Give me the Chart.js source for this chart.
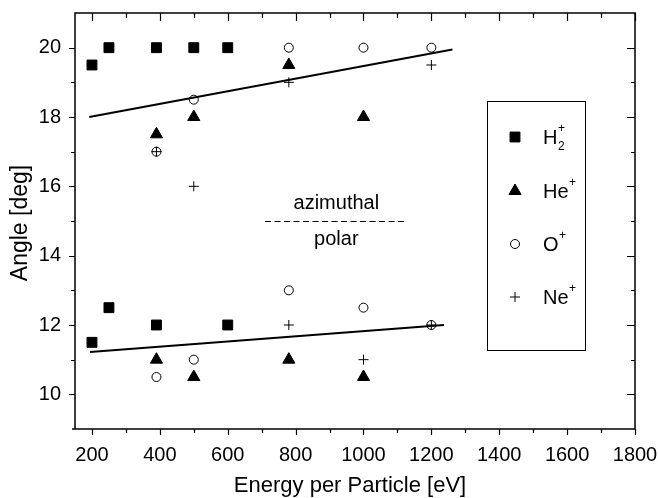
<!DOCTYPE html>
<html><head><meta charset="utf-8">
<script src="https://cdn.jsdelivr.net/npm/chart.js@4.4.0/dist/chart.umd.min.js"></script>
<style>html,body{margin:0;padding:0;background:#fff}#wrap{width:658px;height:498px}</style>
</head><body><div id="wrap"><canvas id="c" width="658" height="498"></canvas></div>
<script>
// ---- tick labels ----
const xMajorTicks = [200, 400, 600, 800, 1000, 1200, 1400, 1600, 1800];
const xMinorTicks = [300, 500, 700, 900, 1100, 1300, 1500, 1700];
const yMajorTicks = [10, 12, 14, 16, 18, 20];
const yMinorTicks = [11, 13, 15, 17, 19];

// ---- series (energy [eV], angle [deg]) ----
const h2AzimuthalE = [200, 250, 390, 500, 600];
const h2AzimuthalA = [19.5, 20, 20, 20, 20];
const h2PolarE = [200, 250, 390, 600];
const h2PolarA = [11.5, 12.5, 12, 12];

const heAzimuthalE = [390, 500, 780, 1000];
const heAzimuthalA = [17.5, 18, 19.5, 18];
const hePolarE = [390, 500, 780, 1000];
const hePolarA = [11, 10.5, 11, 10.5];

const oAzimuthalE = [390, 500, 780, 1000, 1200];
const oAzimuthalA = [17, 18.5, 20, 20, 20];
const oPolarE = [390, 500, 780, 1000, 1200];
const oPolarA = [10.5, 11, 13, 12.5, 12];

const neAzimuthalE = [390, 500, 780, 1200];
const neAzimuthalA = [17, 16, 19, 19.5];
const nePolarE = [780, 1000, 1200];
const nePolarA = [12, 11, 12];

// ---- linear fits ----
const fitAzimuthalE = [192, 1262];
const fitAzimuthalA = [18.0, 19.95];
const fitPolarE = [194, 1237];
const fitPolarA = [11.22, 12.0];

// ---- labels ----
const xTitle = 'Energy per Particle [eV]';
const yTitle = 'Angle [deg]';
const legendNames = [['H', '2', '+'], ['He', '', '+'], ['O', '', '+'], ['Ne', '', '+']];
const dividerE = [710, 1130];
const dividerA = 15;
const upperLabel = 'azimuthal';
const lowerLabel = 'polar';

const FONT = '"Liberation Sans", Arial, Helvetica, sans-serif';
const pts = (xs, ys) => xs.map((x, i) => ({x: x, y: ys[i]}));

const styles = [
  {pointStyle: 'rect', radius: 7, bg: '#000', border: '#000', bw: 1},
  {pointStyle: 'triangle', radius: 7, bg: '#000', border: '#000', bw: 1},
  {pointStyle: 'circle', radius: 4.5, bg: 'rgba(0,0,0,0)', border: '#000', bw: 1},
  {pointStyle: 'cross', radius: 5, bg: 'rgba(0,0,0,0)', border: '#000', bw: 1}
];
function markerDS(label, data, s) {
  return {label: label, data: data, showLine: false, pointStyle: s.pointStyle, pointRadius: s.radius,
    pointHoverRadius: s.radius, pointBackgroundColor: s.bg, pointBorderColor: s.border, pointBorderWidth: s.bw};
}
function lineDS(label, data) {
  return {label: label, data: data, showLine: true, pointRadius: 0, borderColor: '#000', borderWidth: 2, fill: false};
}

const datasets = [
  lineDS('fit azimuthal', pts(fitAzimuthalE, fitAzimuthalA)),
  lineDS('fit polar', pts(fitPolarE, fitPolarA)),
  markerDS('H2+ azimuthal', pts(h2AzimuthalE, h2AzimuthalA), styles[0]),
  markerDS('H2+ polar', pts(h2PolarE, h2PolarA), styles[0]),
  markerDS('He+ azimuthal', pts(heAzimuthalE, heAzimuthalA), styles[1]),
  markerDS('He+ polar', pts(hePolarE, hePolarA), styles[1]),
  markerDS('O+ azimuthal', pts(oAzimuthalE, oAzimuthalA), styles[2]),
  markerDS('O+ polar', pts(oPolarE, oPolarA), styles[2]),
  markerDS('Ne+ azimuthal', pts(neAzimuthalE, neAzimuthalA), styles[3]),
  markerDS('Ne+ polar', pts(nePolarE, nePolarA), styles[3])
];

const decor = {
  id: 'decor',
  afterDraw(chart) {
    const ctx = chart.ctx, a = chart.chartArea, xs = chart.scales.x, ys = chart.scales.y;
    ctx.save();
    ctx.strokeStyle = '#000';
    ctx.fillStyle = '#000';
    // frame
    ctx.lineWidth = 1.5;
    ctx.beginPath();
    ctx.moveTo(a.left - 3, a.bottom); ctx.lineTo(a.right, a.bottom);
    ctx.moveTo(a.left, a.bottom); ctx.lineTo(a.left, a.top);
    ctx.lineTo(a.right, a.top); ctx.lineTo(a.right, a.bottom);
    ctx.stroke();
    // ticks
    ctx.lineWidth = 1.2;
    ctx.beginPath();
    const xt = (v, outLen, inLen) => { const p = Math.round(xs.getPixelForValue(v)) + 0.5;
      ctx.moveTo(p, a.bottom); ctx.lineTo(p, a.bottom + outLen);
      ctx.moveTo(p, a.top); ctx.lineTo(p, a.top + inLen); };
    const yt = (v, outLen, inLen) => { const p = Math.round(ys.getPixelForValue(v)) + 0.5;
      ctx.moveTo(a.left, p); ctx.lineTo(a.left - outLen, p);
      ctx.moveTo(a.right, p); ctx.lineTo(a.right - inLen, p); };
    xMajorTicks.forEach(v => xt(v, 6, 8));
    xMinorTicks.forEach(v => xt(v, 4, 5));
    yMajorTicks.forEach(v => yt(v, 6, 8));
    yMinorTicks.forEach(v => yt(v, 4, 4));
    ctx.stroke();
    // axis titles
    ctx.font = '22px ' + FONT;
    ctx.textAlign = 'center';
    ctx.textBaseline = 'middle';
    ctx.fillText(xTitle, 350, 486);
    ctx.save();
    ctx.translate(21, 223);
    ctx.rotate(-Math.PI / 2);
    ctx.font = '23px ' + FONT;
    ctx.fillText(yTitle, 0, 0);
    ctx.restore();
    // divider annotation
    const dx0 = xs.getPixelForValue(dividerE[0]), dx1 = xs.getPixelForValue(dividerE[1]);
    const dy = Math.round(ys.getPixelForValue(dividerA)) + 0.5;
    ctx.lineWidth = 1;
    ctx.setLineDash([6, 3.5]);
    ctx.beginPath(); ctx.moveTo(dx0, dy); ctx.lineTo(dx1, dy); ctx.stroke();
    ctx.setLineDash([]);
    ctx.font = '20px ' + FONT;
    const cx = (dx0 + dx1) / 2;
    ctx.fillText(upperLabel, cx, dy - 18);
    ctx.fillText(lowerLabel, cx, dy + 18);
    // legend box
    ctx.lineWidth = 1;
    ctx.strokeRect(487.5, 101.5, 98, 249);
    const rows = [137, 191, 244, 297];
    rows.forEach((ry, i) => {
      const s = styles[i];
      ctx.fillStyle = s.bg; ctx.strokeStyle = s.border; ctx.lineWidth = s.bw;
      Chart.helpers.drawPoint(ctx, {pointStyle: s.pointStyle, radius: s.radius, borderWidth: s.bw, rotation: 0}, 515, ry);
      ctx.fillStyle = '#000'; ctx.strokeStyle = '#000';
      const [base, sub, sup] = legendNames[i];
      ctx.textAlign = 'left';
      ctx.textBaseline = 'alphabetic';
      ctx.font = '20px ' + FONT;
      const tx = 543;
      const by = ry + 7;
      ctx.fillText(base, tx, by);
      let w = ctx.measureText(base).width;
      ctx.font = '12px ' + FONT;
      if (sub) { ctx.fillText(sub, tx + w + 0.5, by + 6); }
      ctx.fillText(sup, tx + w + 0.5, by - 12);
    });
    ctx.restore();
  }
};

new Chart(document.getElementById('c'), {
  type: 'scatter',
  data: {datasets: datasets},
  options: {
    responsive: false,
    animation: false,
    devicePixelRatio: 1,
    layout: {padding: {left: 0, right: 23, top: 13, bottom: 0}},
    plugins: {legend: {display: false}, tooltip: {enabled: false}},
    scales: {
      x: {
        type: 'linear', min: 150, max: 1800,
        grid: {display: false, drawTicks: false},
        border: {display: false},
        afterBuildTicks: s => { s.ticks = xMajorTicks.map(v => ({value: v})); },
        afterFit: s => { s.height = 69; s.paddingLeft = 0; s.paddingRight = 0; },
        ticks: {color: '#000', font: {family: FONT, size: 20}, padding: 14, maxRotation: 0, autoSkip: false,
          callback: v => String(v)}
      },
      y: {
        type: 'linear', min: 9, max: 21,
        grid: {display: false, drawTicks: false},
        border: {display: false},
        afterBuildTicks: s => { s.ticks = yMajorTicks.map(v => ({value: v})); },
        afterFit: s => { s.width = 75; s.paddingTop = 0; s.paddingBottom = 0; },
        ticks: {color: '#000', font: {family: FONT, size: 20}, padding: 14, autoSkip: false,
          callback: v => String(v)}
      }
    }
  },
  plugins: [decor]
});
</script></body></html>
